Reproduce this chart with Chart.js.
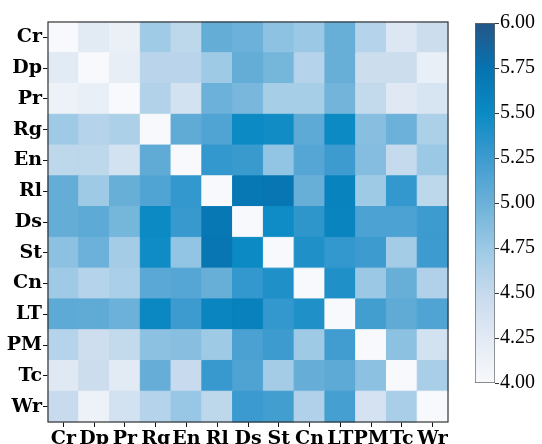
<!DOCTYPE html>
<html>
<head>
<meta charset="utf-8">
<script src="https://cdn.jsdelivr.net/npm/chart.js"></script>
<style>
  html, body { margin: 0; padding: 0; background: #fff; }
  #wrap { position: relative; width: 542px; height: 444px; overflow: hidden; }
  #heatBox { position: absolute; left: 0; top: 0; width: 460px; height: 444px; }
  #barBox { position: absolute; left: 460px; top: 0; width: 82px; height: 444px; }
</style>
</head>
<body>
<div id="wrap">
  <div id="heatBox"><canvas id="heatmap"></canvas></div>
  <div id="barBox"><canvas id="colorbar"></canvas></div>
</div>
<script>
const labels = ["Cr", "Dp", "Pr", "Rg", "En", "Rl", "Ds", "St", "Cn", "LT", "PM", "Tc", "Wr"];

// one row per label, columns in the same order
const rowCr = [4.00, 4.25, 4.15, 4.72, 4.55, 5.05, 5.00, 4.82, 4.75, 5.02, 4.60, 4.30, 4.45];
const rowDp = [4.25, 4.00, 4.18, 4.57, 4.57, 4.73, 5.05, 4.95, 4.60, 5.02, 4.45, 4.45, 4.17];
const rowPr = [4.12, 4.17, 4.00, 4.62, 4.38, 5.00, 4.93, 4.68, 4.68, 4.97, 4.52, 4.28, 4.35];
const rowRg = [4.73, 4.60, 4.65, 4.00, 5.07, 5.15, 5.50, 5.47, 5.08, 5.50, 4.85, 5.00, 4.65];
const rowEn = [4.55, 4.55, 4.38, 5.07, 4.00, 5.30, 5.27, 4.80, 5.12, 5.25, 4.87, 4.50, 4.75];
const rowRl = [5.05, 4.73, 5.02, 5.15, 5.30, 4.00, 5.70, 5.72, 5.02, 5.58, 4.73, 5.30, 4.55];
const rowDs = [5.04, 5.08, 4.95, 5.50, 5.28, 5.70, 4.00, 5.48, 5.32, 5.57, 5.17, 5.17, 5.25];
const rowSt = [4.83, 5.00, 4.70, 5.48, 4.80, 5.72, 5.50, 4.00, 5.40, 5.30, 5.25, 4.70, 5.25];
const rowCn = [4.73, 4.60, 4.66, 5.10, 5.12, 5.02, 5.30, 5.40, 4.00, 5.40, 4.75, 5.02, 4.63];
const rowLT = [5.08, 5.07, 5.00, 5.52, 5.25, 5.55, 5.60, 5.30, 5.40, 4.00, 5.22, 5.07, 5.15];
const rowPM = [4.60, 4.43, 4.52, 4.83, 4.85, 4.73, 5.18, 5.25, 4.73, 5.23, 4.00, 4.83, 4.38];
const rowTc = [4.27, 4.45, 4.25, 5.03, 4.48, 5.28, 5.16, 4.70, 5.03, 5.08, 4.83, 4.00, 4.67];
const rowWr = [4.48, 4.12, 4.38, 4.60, 4.77, 4.55, 5.26, 5.22, 4.63, 5.20, 4.37, 4.67, 4.00];

const rows = [rowCr, rowDp, rowPr, rowRg, rowEn, rowRl, rowDs, rowSt, rowCn, rowLT, rowPM, rowTc, rowWr];

const colorbarTicks = [4.00, 4.25, 4.50, 4.75, 5.00, 5.25, 5.50, 5.75, 6.00];
const vmin = 4.0;
const vmax = 6.0;

// blue colour scale, [value, colour]
const scaleStops = [
    [4.00, "#f8f9fc"],
    [4.25, "#e2eaf4"],
    [4.50, "#c6daed"],
    [4.75, "#9bc9e5"],
    [5.00, "#6cb1d9"],
    [5.25, "#3d9bcf"],
    [5.50, "#0b8ac4"],
    [5.75, "#0673b0"],
    [6.00, "#255688"]
];

function hexToRgb(hex) {
    const n = parseInt(hex.slice(1), 16);
    return [(n >> 16) & 255, (n >> 8) & 255, n & 255];
}

function valueColor(v) {
    if (v <= scaleStops[0][0]) return scaleStops[0][1];
    for (let k = 1; k < scaleStops.length; k++) {
        if (v <= scaleStops[k][0]) {
            const a = scaleStops[k - 1], b = scaleStops[k];
            const t = (v - a[0]) / (b[0] - a[0]);
            const ca = hexToRgb(a[1]), cb = hexToRgb(b[1]);
            const c = ca.map(function (x, i) { return Math.round(x + (cb[i] - x) * t); });
            return "rgb(" + c.join(",") + ")";
        }
    }
    return scaleStops[scaleStops.length - 1][1];
}

const cells = [];
rows.forEach(function (row, i) {
    row.forEach(function (v, j) {
        cells.push({ x: labels[j], y: labels[i], v: v });
    });
});

function cellColor(ctx) {
    return ctx.raw ? valueColor(ctx.raw.v) : "#fff";
}

const labelFont = { family: "'DejaVu Serif', serif", weight: "bold", size: 19 };

// dark frame round the plot area
const framePlugin = {
    id: "frame",
    afterDraw: function (chart) {
        const a = chart.chartArea;
        const ctx = chart.ctx;
        ctx.save();
        ctx.strokeStyle = "#333";
        ctx.lineWidth = 1.2;
        ctx.strokeRect(a.left, a.top, a.width, a.height);
        ctx.restore();
    }
};

new Chart(document.getElementById("heatmap"), {
    type: "scatter",
    data: {
        datasets: [{
            data: cells,
            pointStyle: "rect",
            pointRadius: function (ctx) {
                const a = ctx.chart.chartArea;
                if (!a) return 0;
                return a.width / labels.length / 2 * Math.SQRT2;
            },
            pointBackgroundColor: cellColor,
            pointBorderColor: cellColor,
            pointBorderWidth: 1
        }]
    },
    options: {
        responsive: true,
        maintainAspectRatio: false,
        animation: false,
        events: [],
        layout: { padding: { top: 22, right: 12, left: 0, bottom: 0 } },
        plugins: {
            legend: { display: false },
            tooltip: { enabled: false }
        },
        scales: {
            x: {
                type: "category",
                labels: labels,
                offset: true,
                grid: { drawOnChartArea: false, drawTicks: true, tickLength: 5, tickColor: "#111" },
                border: { display: false },
                ticks: { autoSkip: false, maxRotation: 0, minRotation: 0, padding: 1, color: "#000", font: labelFont },
                afterFit: function (scale) { scale.height = 22; }
            },
            y: {
                type: "category",
                labels: labels,
                offset: true,
                grid: { drawOnChartArea: false, drawTicks: true, tickLength: 5, tickColor: "#111" },
                border: { display: false },
                ticks: { autoSkip: false, padding: 1, color: "#000", font: labelFont },
                afterFit: function (scale) { scale.width = 48; }
            }
        }
    },
    plugins: [framePlugin]
});

// colour bar
new Chart(document.getElementById("colorbar"), {
    type: "bar",
    data: {
        labels: [""],
        datasets: [{
            data: [[vmin, vmax]],
            backgroundColor: function (ctx) {
                const a = ctx.chart.chartArea;
                if (!a) return null;
                const g = ctx.chart.ctx.createLinearGradient(0, a.bottom, 0, a.top);
                scaleStops.forEach(function (s) {
                    g.addColorStop((s[0] - vmin) / (vmax - vmin), s[1]);
                });
                return g;
            },
            borderColor: "#666",
            borderWidth: 1,
            borderSkipped: false,
            barPercentage: 1,
            categoryPercentage: 1
        }]
    },
    options: {
        responsive: true,
        maintainAspectRatio: false,
        animation: false,
        events: [],
        layout: { padding: { left: 15, top: 23, bottom: 61, right: 0 } },
        plugins: {
            legend: { display: false },
            tooltip: { enabled: false }
        },
        scales: {
            x: { display: false },
            y: {
                position: "right",
                min: vmin,
                max: vmax,
                afterBuildTicks: function (scale) {
                    scale.ticks = colorbarTicks.map(function (v) { return { value: v }; });
                },
                ticks: {
                    padding: 1,
                    color: "#000",
                    font: { family: "'Liberation Serif', 'Times New Roman', serif", size: 20 },
                    callback: function (value) { return Number(value).toFixed(2); }
                },
                grid: { drawOnChartArea: false, drawTicks: true, tickLength: 4, tickColor: "#333" },
                border: { display: false },
                afterFit: function (scale) { scale.width = 47; }
            }
        }
    }
});
</script>
</body>
</html>
